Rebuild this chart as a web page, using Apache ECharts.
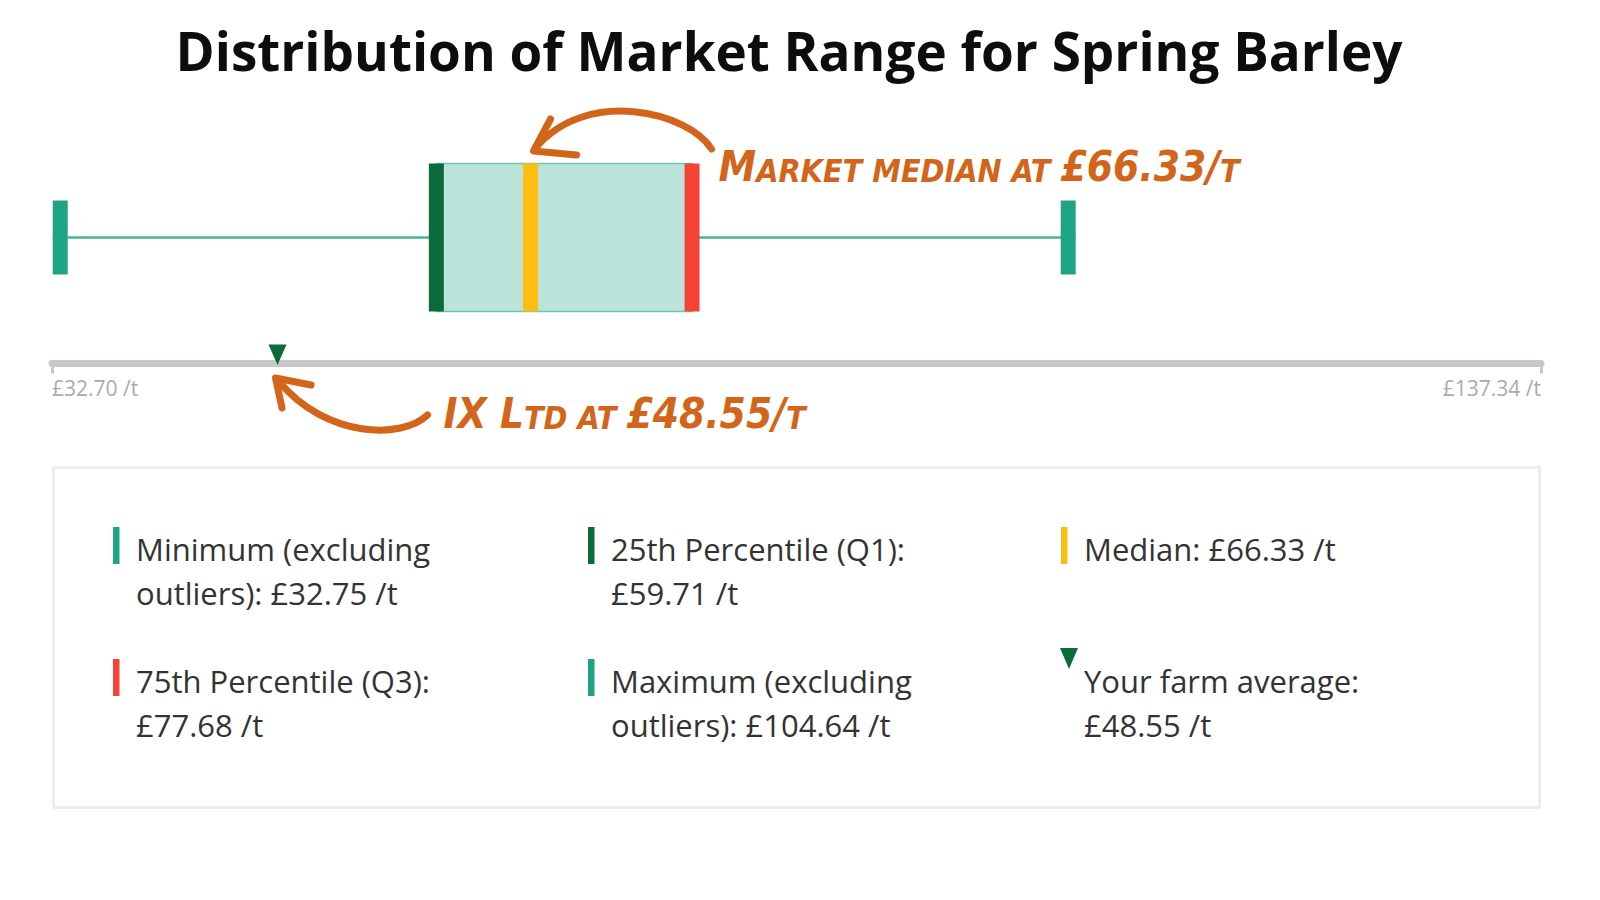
<!DOCTYPE html>
<html><head><meta charset="utf-8">
<script src="https://cdn.jsdelivr.net/npm/echarts@6/dist/echarts.min.js"></script>
<style>html,body{margin:0;padding:0;background:#fff}#c{width:1600px;height:900px}</style>
</head><body><div id="c"></div>
<script>
// ---- data ----
const chartTitle = 'Distribution of Market Range for Spring Barley';
const categories = ['Spring Barley'];
const statNames = ['Minimum (excluding outliers)', '25th Percentile (Q1)', 'Median', '75th Percentile (Q3)', 'Maximum (excluding outliers)'];
const statValues = [32.75, 59.71, 66.33, 77.68, 104.64];
const axisRange = [32.70, 137.34];
const farmName = 'IX Ltd';
const farmLegendName = 'Your farm average';
const farmAverage = [48.55];
const unitText = ' /t';

// ---- styles ----
const FONT = '"Open Sans", "Noto Sans", sans-serif';
const HAND = '"DejaVu Sans Condensed", "DejaVu Sans", sans-serif';
const ORANGE = '#D2651A';
const statColors = ['#1FA385', '#0B6B3A', '#FEBE10', '#F44336', '#1FA385'];

const money = v => '£' + v.toFixed(2);

const chart = echarts.init(document.getElementById('c'), null, {renderer: 'svg', width: 1600, height: 900});

const option = {
  animation: false,
  backgroundColor: '#fff',
  grid: {left: 52, right: 59, top: 111.5, bottom: 536.5},
  xAxis: {
    type: 'value',
    min: axisRange[0],
    max: axisRange[1],
    splitLine: {show: false},
    axisLine: {show: true, lineStyle: {color: '#C9C7CA', width: 7}},
    axisTick: {show: true, customValues: axisRange, length: 10, lineStyle: {color: '#C9C7CA', width: 3}},
    axisLabel: {
      customValues: axisRange,
      formatter: v => money(v) + unitText,
      color: '#ABABAB', fontSize: 21, fontFamily: FONT, margin: 14,
      alignMinLabel: 'left', alignMaxLabel: 'right'
    }
  },
  yAxis: {type: 'category', data: categories, show: false},
  series: [
    {
      type: 'custom',
      name: 'Market range',
      data: categories.map((c, i) => [i].concat(statValues)),
      encode: {x: [1, 2, 3, 4, 5], y: 0},
      renderItem: function (params, api) {
        const yi = api.value(0);
        const p = [1, 2, 3, 4, 5].map(k => api.coord([api.value(k), yi]));
        const cy = p[0][1];
        const boxH = 148, capH = 74, bw = 15;
        const bar = (x, h, color) => ({type: 'rect', shape: {x: x, y: cy - h / 2, width: bw, height: h}, style: {fill: color}});
        return {
          type: 'group',
          children: [
            {type: 'line', shape: {x1: p[0][0], y1: cy, x2: p[4][0], y2: cy}, style: {stroke: '#48B398', lineWidth: 2.5}},
            {type: 'rect', shape: {x: p[1][0], y: cy - boxH / 2, width: p[3][0] - p[1][0], height: boxH},
             style: {fill: '#BCE3DA', stroke: '#72C6B1', lineWidth: 1.5}},
            bar(p[1][0] - bw / 2, boxH, statColors[1]),
            bar(p[2][0] - bw / 2, boxH, statColors[2]),
            bar(p[3][0] - bw / 2, boxH, statColors[3]),
            bar(p[0][0], capH, statColors[0]),
            bar(p[4][0] - bw, capH, statColors[4])
          ]
        };
      }
    },
    {
      type: 'custom',
      name: farmName,
      data: farmAverage.map(v => [v]),
      encode: {x: 0},
      z: 5,
      renderItem: function (params, api) {
        const x = api.coord([api.value(0), 0])[0];
        const ay = params.coordSys.y + params.coordSys.height;
        return {type: 'polygon', shape: {points: [[x - 9, ay - 19], [x + 9, ay - 19], [x, ay + 1.5]]}, style: {fill: '#0B6B3A'}};
      }
    }
  ]
};
chart.setOption(option);

// small-caps style rich text: lowercase letters become smaller capitals
function capsRich(str) {
  let out = '', cur = null, buf = '';
  for (const ch of str) {
    let t = (ch !== ch.toUpperCase()) ? 's' : 'b';
    if (ch === ' ') t = cur || 's';
    if (t !== cur && buf) { out += '{' + cur + '|' + buf + '}'; buf = ''; }
    cur = t; buf += ch.toUpperCase();
  }
  if (buf) out += '{' + cur + '|' + buf + '}';
  return out;
}
const handRich = {
  b: {fontFamily: HAND, fontSize: 42, fontWeight: 'bold', fontStyle: 'italic', fill: ORANGE, verticalAlign: 'bottom'},
  s: {fontFamily: HAND, fontSize: 32, fontWeight: 'bold', fontStyle: 'italic', fill: ORANGE, verticalAlign: 'bottom'}
};

const xpx = v => chart.convertToPixel({xAxisIndex: 0}, v);
const medX = xpx(statValues[2]);
const farmX = xpx(farmAverage[0]);

const graphics = [];
// title
graphics.push({type: 'text', x: 789, y: 50, style: {text: chartTitle, fontFamily: FONT, fontWeight: 'bold', fontSize: 53, fill: '#0d0d0d', align: 'center', verticalAlign: 'middle'}});

// annotation: market median
const arrowStyle = {stroke: ORANGE, lineWidth: 7, fill: 'none', lineCap: 'round', lineJoin: 'round'};
graphics.push({type: 'bezierCurve', shape: {x1: medX + 181, y1: 149, cpx1: medX + 158, cpy1: 112, cpx2: medX + 56, cpy2: 87, x2: medX + 5, y2: 148}, style: arrowStyle});
graphics.push({type: 'polyline', shape: {points: [[medX + 20, 119], [medX + 3, 151], [medX + 46, 155]]}, style: arrowStyle});
graphics.push({type: 'text', x: medX + 188, y: 187, style: {text: capsRich('Market median at ' + money(statValues[2]) + '/t'), rich: handRich, fill: ORANGE, verticalAlign: 'bottom', align: 'left'}});

// annotation: farm
graphics.push({type: 'bezierCurve', shape: {x1: farmX + 150, y1: 415, cpx1: farmX + 125, cpy1: 439, cpx2: farmX + 49, cpy2: 439, x2: farmX + 1, y2: 381}, style: arrowStyle});
graphics.push({type: 'polyline', shape: {points: [[farmX + 4.5, 408], [farmX - 2, 378], [farmX + 33.5, 385]]}, style: arrowStyle});
graphics.push({type: 'text', x: farmX + 166, y: 434, style: {text: capsRich(farmName + ' at ' + money(farmAverage[0]) + '/t'), rich: handRich, fill: ORANGE, verticalAlign: 'bottom', align: 'left'}});

// legend box
graphics.push({type: 'rect', shape: {x: 53.5, y: 467.5, width: 1486, height: 340}, style: {fill: 'none', stroke: '#EDEDED', lineWidth: 3}});
const colX = [113, 588, 1061];
const rowY = [527, 659];
const legendEntries = statNames.map((n, i) => ({text: n + ': ' + money(statValues[i]) + unitText, color: statColors[i]}));
legendEntries.push({text: farmLegendName + ': ' + money(farmAverage[0]) + unitText, marker: 'triangle'});
legendEntries.forEach((e, i) => {
  const col = i % 3, row = Math.floor(i / 3);
  const x = colX[col], y = rowY[row];
  if (e.marker === 'triangle') {
    graphics.push({type: 'polygon', shape: {points: [[x - 1, y - 11], [x + 17, y - 11], [x + 8, y + 10]]}, style: {fill: '#0B6B3A'}});
  } else {
    graphics.push({type: 'rect', shape: {x: x, y: y, width: 6.5, height: 37}, style: {fill: e.color}});
  }
  graphics.push({type: 'text', x: x + 23, y: y, style: {text: e.text, fontFamily: FONT, fontSize: 31, lineHeight: 44, fill: '#333', width: 345, overflow: 'break', verticalAlign: 'top', align: 'left'}});
});
chart.setOption({graphic: graphics});
</script>
</body></html>
